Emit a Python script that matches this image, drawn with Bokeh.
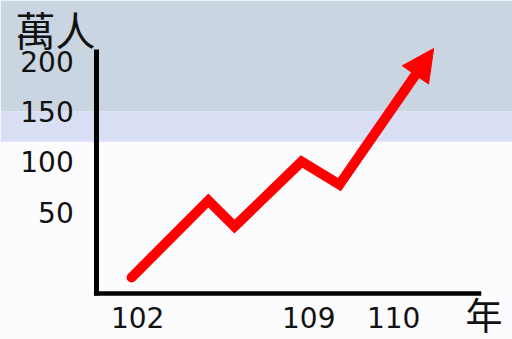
from bokeh.plotting import figure
from bokeh.models import Range1d, BoxAnnotation, Arrow, NormalHead, Label
from bokeh.core.properties import value
from bokeh.embed import file_html
from bokeh.resources import INLINE

# ---- data (schematic trend) ----
x_pos = [25.6, 40.6, 45.7, 58.8, 66.2, 84.6]          # position along the time axis
visitors = [-14.6, 61.8, 36.0, 100.4, 77.6, 212.5]    # 萬人
y_ticks = [50, 100, 150, 200]
y_tick_labels = ["50", "100", "150", "200"]
x_tick_pos = [26.8, 60.2, 76.8]
x_tick_labels = ["102", "109", "110"]
y_title = "萬人"
x_title = "年"

# ---- layout constants ----
W, H = 512, 339
Y_LO, Y_HI = -76.1, 260.2
X_LO, X_HI = 0, 100
AXIS_X = 18.75
AXIS_Y = -30.5
AXIS_TOP = 211.5
AXIS_RIGHT = 93.9
LABEL_X = 14.3
XLABEL_Y = -54.3

p = figure(width=W, height=H, output_backend="svg", toolbar_location=None,
           x_range=Range1d(X_LO, X_HI), y_range=Range1d(Y_LO, Y_HI),
           min_border=0, outline_line_color=None,
           background_fill_color="#FCFCFE", border_fill_color="#FCFCFE")
p.axis.visible = False
p.grid.visible = False

# background bands
p.add_layout(BoxAnnotation(bottom=150, fill_color="#C9D5E0", fill_alpha=1,
                           line_alpha=0, level="underlay"))
p.add_layout(BoxAnnotation(bottom=120, top=150, fill_color="#D8DEF4", fill_alpha=1,
                           line_alpha=0, level="underlay"))

# axes lines
p.segment(x0=[AXIS_X], y0=[AXIS_Y - 2], x1=[AXIS_X], y1=[AXIS_TOP],
          line_color="black", line_width=5)
p.segment(x0=[AXIS_X - 0.5], y0=[AXIS_Y], x1=[AXIS_RIGHT], y1=[AXIS_Y],
          line_color="black", line_width=4.5)

# trend line, shaft ends inside arrow head
t = 0.86
sx = x_pos[-2] + t * (x_pos[-1] - x_pos[-2])
sy = visitors[-2] + t * (visitors[-1] - visitors[-2])
p.line(x_pos[:-1] + [sx], visitors[:-1] + [sy], line_color="#FF0000",
       line_width=10, line_join="miter", line_cap="round")
p.add_layout(Arrow(end=NormalHead(size=32, fill_color="#FF0000", line_color="#FF0000"),
                   x_start=x_pos[-2], y_start=visitors[-2],
                   x_end=x_pos[-1], y_end=visitors[-1], line_alpha=0))

# tick labels
p.text(x=[LABEL_X] * len(y_ticks), y=y_ticks, text=y_tick_labels,
       text_font=value("DejaVu Sans"), text_font_size="28px",
       text_align="right", text_baseline="middle", text_color="#111111")
p.text(x=x_tick_pos, y=[XLABEL_Y] * len(x_tick_pos), text=x_tick_labels,
       text_font=value("DejaVu Sans"), text_font_size="28px",
       text_align="center", text_baseline="middle", text_color="#111111")

# axis titles
p.add_layout(Label(x=15, y=H - 28, x_units="screen", y_units="screen", text=y_title,
                   text_font="Noto Sans CJK TC", text_font_size="40px",
                   text_baseline="middle", text_align="left", text_color="#111111"))
p.add_layout(Label(x=465, y=H - 313, x_units="screen", y_units="screen", text=x_title,
                   text_font="Noto Sans CJK TC", text_font_size="37px",
                   text_baseline="middle", text_align="left", text_color="#111111"))

open("out.html", "w").write(file_html(p, INLINE))
